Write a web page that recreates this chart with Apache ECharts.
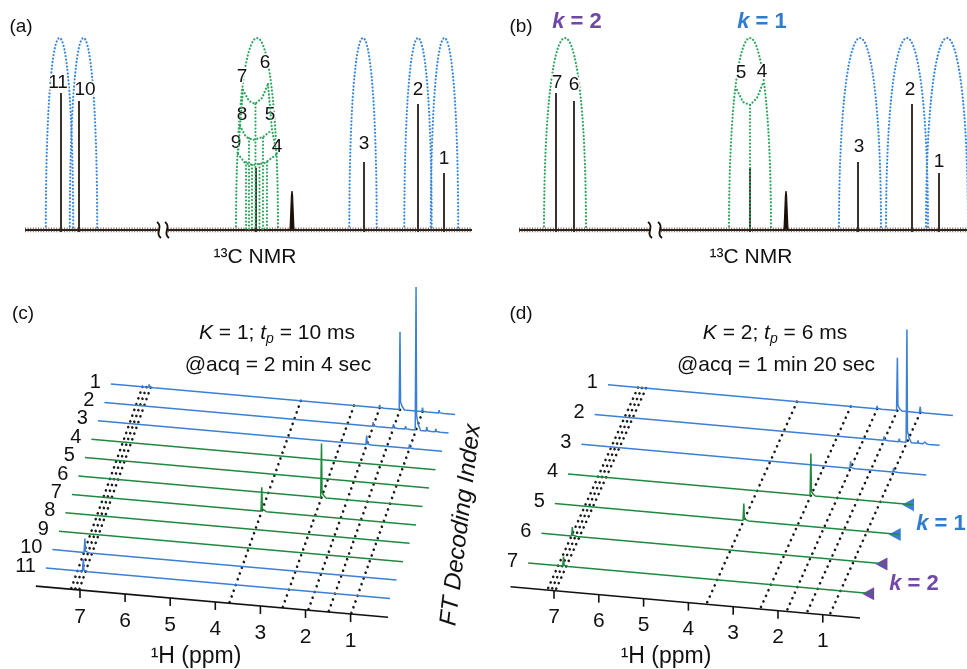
<!DOCTYPE html>
<html>
<head>
<meta charset="utf-8">
<script src="https://cdn.jsdelivr.net/npm/echarts@6/dist/echarts.min.js"></script>
<style>html,body{margin:0;background:#fff}#main{width:967px;height:669px}</style>
</head>
<body>
<div id="main"></div>
<script>
var chart = echarts.init(document.getElementById('main'));
var FONT = '"Liberation Sans", Arial, sans-serif';

// ---------- (a) / (b): 13C spectra, x = position along trace, y = intensity
var peakPosA = [36, 54, 231, 339, 393, 419];
var peakHeightA = [68.5, 64.5, 31, 34, 63, 28.5];
var peakPosB = [37, 55, 231, 339, 393, 420];
var peakHeightB = [68.5, 64.5, 31, 34, 63, 28.5];
var solventPeak = [[265, 0], [265.8, 9], [266.4, 17], [267, 19.5], [267.6, 17], [268.2, 9], [269, 0]];
var breakA = [134, 142];
var breakB = [131, 141];
// arches: [centre, half width, top]
var blueArchA = [[34.5, 13.7, 96], [58.5, 13.7, 96], [338, 13.7, 96], [393, 13.7, 96], [419.5, 13.7, 96]];
var greenArchA = [[232, 21, 96]];
var blueArchB = [[341, 21, 96], [388, 21, 96], [428, 21, 96]];
var greenArchB = [[46, 21, 96], [231, 21, 96]];
// dotted partitions inside the green arches
var innerA = [
  [[218, 70], [224, 64.5], [230, 63], [237, 66], [243, 73]],
  [[215, 52], [221, 46.5], [228, 45], [238, 46.5], [247, 50]],
  [[213, 38], [220, 33.5], [228, 32.5], [240, 33.5], [252, 38]],
  [[218, 70], [215, 52], [213, 38]],
  [[243, 73], [247, 50], [252, 38]],
  [[230.5, 63], [230.5, 0]], [[224, 46], [224, 0]], [[238, 46], [238, 0]],
  [[221, 34], [221, 0]], [[242, 34], [242, 0]], [[227, 32.5], [227, 0]], [[234.5, 33], [234.5, 0]]
];
var innerB = [
  [[218, 70], [224, 64], [231, 62.5], [238, 66], [244, 73.5]],
  [[231, 62.5], [231, 0]]
];
var labelsA = [['11', 33, 73.5], ['10', 60, 70], ['7', 217, 76.5], ['6', 240, 83.5], ['8', 217, 57.5], ['5', 245, 57.5],
  ['9', 211, 43.5], ['4', 252, 41.5], ['3', 339, 43], ['2', 393, 70], ['1', 419, 35.5]];
var labelsB = [['7', 38, 73.5], ['6', 55, 72.5], ['5', 222, 78.5], ['4', 243, 79], ['3', 340, 41.5], ['2', 391, 70], ['1', 420, 34]];

// ---------- (c) / (d): stacked 1H spectra (ppm, row, intensity)
var ppmTicks = [7, 6, 5, 4, 3, 2, 1];
var rowColorC = ['b', 'b', 'b', 'g', 'g', 'g', 'g', 'g', 'g', 'b', 'b'];
var rowPeaksC = [
  [[7.05, 3], [1.94, 3], [1.49, 78], [0.99, 4], [0.62, 3]],
  [[1.94, 4], [1.49, 4], [1.22, 3], [0.99, 143], [0.75, 4], [0.55, 3]],
  [[1.94, 9], [0.99, 4]],
  [], [], [[2.51, 54]], [[3.69, 24]], [], [],
  [[7.18, 14]], [[7.07, 12]]
];
var dottedC = [7.2, 7.11, 7.02, 3.69, 2.51, 1.94, 1.49, 0.99];
var rowColorD = ['b', 'b', 'b', 'g', 'g', 'g', 'g'];
var rowPeaksD = [
  [[1.81, 3], [1.36, 53], [0.85, 6]],
  [[1.36, 4], [1.02, 3], [0.85, 113], [0.6, 3], [0.45, 2]],
  [[1.81, 7], [0.85, 4]],
  [[2.4, 42]], [[3.6, 17]], [[7.13, 9]], [[7.03, 9.5]]
];
var dottedD = [7.15, 7.06, 6.97, 3.6, 2.4, 1.81, 1.36, 0.85];
var markerD = [[4, 'b'], [5, 'b'], [6, 'p'], [7, 'p']];

var COL = {b: '#3b7fd6', g: '#1f8a3e', p: '#7048a8'};
var projC = {ox: 151.5, oy: 117.6, ux: 45.1, uy: 4.0, vx: -6.5, vy: 18.4, start: 7.9, end: 0.27, axisRow: 12, axStart: 7.98, axEnd: 0.17};
var projD = {ox: 164.7, oy: 118.1, ux: 44.8, uy: 4.0, vx: -13.3, vy: 29.7, start: 7.82, end: 0.12, axisRow: 7.82, axStart: 7.97, axEnd: 0.17};

function project(P, ppm, row, h) {
  var d = 7 - ppm, k = row - 1;
  return [P.ox + d * P.ux + k * P.vx, P.oy + d * P.uy + k * P.vy - h];
}

var series = [];
function ax(gi) { return {xAxisIndex: gi, yAxisIndex: gi, silent: true, animation: false}; }
function add(gi, s) { series.push(Object.assign(ax(gi), s)); }

function archSeries(gi, list, color) {
  add(gi, {type: 'custom', clip: false, data: list, renderItem: function (params, api) {
    var c = api.value(0), w = api.value(1), t = api.value(2) / 0.75;
    var p0 = api.coord([c - w, 0]), p1 = api.coord([c - w, t]), p2 = api.coord([c + w, t]), p3 = api.coord([c + w, 0]);
    return {type: 'bezierCurve', shape: {x1: p0[0], y1: p0[1], cpx1: p1[0], cpy1: p1[1], cpx2: p2[0], cpy2: p2[1], x2: p3[0], y2: p3[1]},
      style: {stroke: color, fill: null, lineWidth: 2.2, lineDash: [0.1, 3.4], lineCap: 'round'}};
  }});
}
function dottedPath(gi, pts, color) {
  add(gi, {type: 'line', data: pts, symbol: 'none', clip: false,
    lineStyle: {color: color, width: 2.2, type: [0.1, 3.4], cap: 'round'}});
}
function carbonPanel(gi, pos, hts, brk, width, blue, green, inner, labels) {
  [[[0, 0], [brk[0] - 1, 0]], [[brk[1] + 1, 0], [width, 0]]].forEach(function (seg) {
    // noisy-looking baseline: solid core plus a fine hatched band
    add(gi, {type: 'line', data: seg, symbol: 'none', lineStyle: {color: '#2e2018', width: 2}});
    add(gi, {type: 'line', data: seg, symbol: 'none', lineStyle: {color: '#3a2a20', width: 5, type: [1, 1.6], opacity: 0.7}});
  });
  add(gi, {type: 'line', data: solventPeak, symbol: 'none', lineStyle: {color: '#1b0f08', width: 1.2},
    areaStyle: {color: '#1b0f08', opacity: 1}});
  add(gi, {type: 'custom', data: pos.map(function (x, i) { return [x, hts[i]]; }), renderItem: function (params, api) {
    var a = api.coord([api.value(0), 0]), b = api.coord([api.value(0), api.value(1)]);
    return {type: 'line', shape: {x1: a[0], y1: a[1] + 2, x2: b[0], y2: b[1]}, style: {stroke: '#1b0f08', lineWidth: 1.7}};
  }});
  add(gi, {type: 'custom', clip: false, data: brk.map(function (x) { return [x, 0]; }), renderItem: function (params, api) {
    var c = api.coord([api.value(0), 0]);
    return {type: 'bezierCurve', shape: {x1: c[0] - 2, y1: c[1] - 8, cpx1: c[0] + 5, cpy1: c[1] - 3, cpx2: c[0] - 5, cpy2: c[1] + 3, x2: c[0] + 2, y2: c[1] + 8},
      style: {stroke: '#1b0f08', fill: null, lineWidth: 2}};
  }});
  archSeries(gi, blue, '#3a88dc');
  archSeries(gi, green, '#2ea65c');
  inner.forEach(function (pts) { dottedPath(gi, pts, '#2ea65c'); });
  add(gi, {type: 'custom', clip: false, data: labels.map(function (l) { return [l[1], l[2]]; }),
    renderItem: function (params, api) {
      var p = api.coord([api.value(0), api.value(1)]);
      return {type: 'text', x: p[0], y: p[1], z2: 10, style: {text: labels[params.dataIndex][0], fill: '#111',
        fontSize: 19, fontFamily: FONT, align: 'center', verticalAlign: 'middle', stroke: '#fff', lineWidth: 3}};
    }});
}

function protonPanel(gi, P, colors, peaks, dotted) {
  dotted.forEach(function (p) {
    add(gi, {type: 'line', symbol: 'none', clip: false, data: [project(P, p, 1, 0), project(P, p, P.axisRow, 0)],
      lineStyle: {color: '#1a1a1a', width: 2.6, type: [0.1, 6], cap: 'round'}});
  });
  colors.forEach(function (c, i) {
    var r = i + 1;
    var pts = [[P.start, 0]];
    peaks[i].slice().sort(function (a, b) { return b[0] - a[0]; }).forEach(function (pk) {
      var p = pk[0], h = pk[1];
      pts.push([p + 0.018, 0], [p, h], [p - 0.012, 0.1 * h], [p - 0.05, 0.04 * h], [p - 0.1, 0]);
    });
    pts.push([P.end, 0]);
    add(gi, {type: 'line', symbol: 'none', clip: false, data: pts.map(function (q) { return project(P, q[0], r, q[1]); }),
      lineStyle: {color: COL[c], width: 1.5}});
  });
  // row labels
  add(gi, {type: 'custom', clip: false, data: colors.map(function (c, i) { return project(P, P.start, i + 1, 0); }),
    renderItem: function (params, api) {
      var p = api.coord([api.value(0), api.value(1)]);
      return {type: 'text', x: p[0] - 10, y: p[1] - 2, style: {text: String(params.dataIndex + 1), fill: '#111',
        fontSize: 20, fontFamily: FONT, align: 'right', verticalAlign: 'middle'}};
    }});
  // tilted ppm axis
  add(gi, {type: 'line', symbol: 'none', clip: false,
    data: [project(P, P.axStart, P.axisRow, 0), project(P, P.axEnd, P.axisRow, 0)],
    lineStyle: {color: '#111', width: 1.6}});
  add(gi, {type: 'custom', clip: false, data: ppmTicks.map(function (t) { return project(P, t, P.axisRow, 0); }),
    renderItem: function (params, api) {
      var p = api.coord([api.value(0), api.value(1)]);
      return {type: 'group', children: [
        {type: 'line', shape: {x1: p[0], y1: p[1], x2: p[0], y2: p[1] + 8}, style: {stroke: '#111', lineWidth: 1.6}},
        {type: 'text', x: p[0], y: p[1] + 27, style: {text: String(ppmTicks[params.dataIndex]), fill: '#111',
          fontSize: 21, fontFamily: FONT, align: 'center', verticalAlign: 'middle'}}
      ]};
    }});
}

carbonPanel(0, peakPosA, peakHeightA, breakA, 447, blueArchA, greenArchA, innerA, labelsA);
carbonPanel(1, peakPosB, peakHeightB, breakB, 448, blueArchB, greenArchB, innerB, labelsB);
protonPanel(2, projC, rowColorC, rowPeaksC, dottedC);
protonPanel(3, projD, rowColorD, rowPeaksD, dottedD);

// k-group markers at the ends of the rows in (d)
add(3, {type: 'custom', clip: false, data: markerD.map(function (m) { return project(projD, projD.end, m[0], 0); }),
  renderItem: function (params, api) {
    var p = api.coord([api.value(0), api.value(1)]);
    return {type: 'polygon', shape: {points: [[p[0] + 1, p[1] - 6.5], [p[0] + 1, p[1] + 6.5], [p[0] - 11, p[1]]]},
      style: {fill: COL[markerD[params.dataIndex][1]]}};
  }});

function txt(x, y, text, size, extra) {
  return {type: 'text', x: x, y: y, z: 100, style: Object.assign({text: text, fill: '#111', fontSize: size,
    fontFamily: FONT, align: 'center', verticalAlign: 'middle'}, extra || {})};
}
function rich(size) {
  return {
    i: {fontSize: size, fontFamily: FONT, fontStyle: 'italic', fill: '#111'},
    n: {fontSize: size, fontFamily: FONT, fill: '#111'},
    s: {fontSize: 14, fontFamily: FONT, fontStyle: 'italic', fill: '#111', padding: [13, 0, 0, 0]}
  };
}
function kLabel(x, y, val, color, size) {
  return txt(x, y, '{k|k}{e| = ' + val + '}', size, {rich: {
    k: {fontSize: size, fontFamily: FONT, fontStyle: 'italic', fontWeight: 'bold', fill: color},
    e: {fontSize: size, fontFamily: FONT, fontWeight: 'bold', fill: color}}});
}

var graphics = [
  txt(21, 27, '(a)', 19), txt(521, 27, '(b)', 19), txt(23, 314, '(c)', 19), txt(521, 314, '(d)', 19),
  txt(255, 257, '¹³C NMR', 21), txt(751, 257, '¹³C NMR', 21),
  kLabel(577, 22, 2, COL.p, 22), kLabel(762, 22, 1, '#2f7bd0', 22),
  txt(277, 333, '{i|K}{n| = 1; }{i|t}{s|p}{n| = 10 ms}', 21, {rich: rich(21)}),
  txt(278, 365, '@acq = 2 min 4 sec', 21),
  txt(775, 333, '{i|K}{n| = 2; }{i|t}{s|p}{n| = 6 ms}', 21, {rich: rich(21)}),
  txt(776, 365, '@acq = 1 min 20 sec', 21),
  txt(196, 657, '¹H (ppm)', 23), txt(666, 657, '¹H (ppm)', 23),
  Object.assign(txt(461, 525, 'FT Decoding Index', 24, {fontStyle: 'italic'}), {rotation: 83 * Math.PI / 180}),
  kLabel(941, 524, 1, '#2f7bd0', 22), kLabel(914, 584, 2, COL.p, 22)
];

var grids = [
  {left: 25, top: 30, width: 447, height: 200},
  {left: 519, top: 30, width: 448, height: 200},
  {left: 0, top: 270, width: 480, height: 399},
  {left: 480, top: 270, width: 487, height: 399}
];
var xRange = [447, 448, 480, 487];
var option = {
  animation: false,
  backgroundColor: '#fff',
  grid: grids,
  xAxis: grids.map(function (g, i) { return {type: 'value', gridIndex: i, min: 0, max: xRange[i], show: false}; }),
  yAxis: grids.map(function (g, i) {
    return i < 2 ? {type: 'value', gridIndex: i, min: 0, max: 100, show: false}
                 : {type: 'value', gridIndex: i, min: 0, max: 399, inverse: true, show: false};
  }),
  graphic: graphics,
  series: series
};
chart.setOption(option);
</script>
</body>
</html>
